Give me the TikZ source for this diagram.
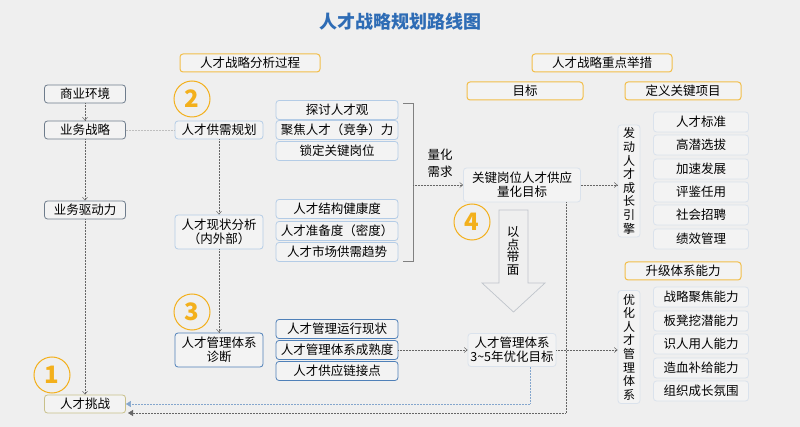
\documentclass[tikz,border=0pt]{standalone}
\usepackage{fontspec}
\setmainfont{Noto Sans CJK SC}
\usetikzlibrary{arrows.meta}
\definecolor{bg}{HTML}{EFEFEF}
\definecolor{boxfill}{HTML}{F3F3F3}
\definecolor{orangeb}{HTML}{F2BE4A}
\definecolor{grayb}{HTML}{6E7C8C}
\definecolor{lblue}{HTML}{B4CCE6}
\definecolor{dblue}{HTML}{4F80B8}
\definecolor{faint}{HTML}{DAE2EC}
\definecolor{olive}{HTML}{C8C08A}
\definecolor{titleblue}{HTML}{2E6CB5}
\definecolor{numor}{HTML}{F3B01C}
\begin{document}
\begin{tikzpicture}[x=1pt,y=-1pt,
  bx/.style={draw, rounded corners=3pt, fill=boxfill, line width=0.8pt, inner sep=1pt, font=\fontsize{12.5}{14}\selectfont, align=center},
  hdr/.style={bx, draw=orangeb, line width=1pt, minimum width=116pt, minimum height=18pt},
  lft/.style={bx, draw=grayb, minimum width=81pt, minimum height=18pt},
  mid/.style={bx, draw=lblue, minimum width=88pt},
  rgt/.style={bx, draw=lblue, minimum width=122pt, minimum height=19pt},
  rgtd/.style={bx, draw=dblue, minimum width=122pt, minimum height=19pt},
  prj/.style={bx, draw=faint, minimum width=95pt, minimum height=20pt},
  vbx/.style={bx, draw=faint, minimum width=22pt, font=\fontsize{12}{13.6}\selectfont},
  num/.style={circle, draw=numor, line width=1pt, minimum size=36pt, inner sep=0pt, text=numor, font=\fontsize{24}{24}\selectfont\bfseries},
  dl/.style={densely dotted, draw=gray!80!black, line width=0.5pt},
  da/.style={dl, -{Straight Barb[length=3pt,width=5pt]}},
]
\fill[bg] (0,0) rectangle (800,427);
\useasboundingbox (0,0) rectangle (800,427);
\node[text=titleblue, font=\fontsize{18}{20}\selectfont\bfseries] (title) at (400,22) {人才战略规划路线图};
\node[hdr, minimum width=140pt] (h1) at (250,63) {人才战略分析过程};
\node[hdr, minimum width=140pt] (h2) at (602,63) {人才战略重点举措};
\node[hdr] (h3) at (525,91) {目标};
\node[hdr] (h4) at (683,91) {定义关键项目};
\node[hdr] (h5) at (683,271) {升级体系能力};
% left column
\node[lft] (a1) at (85,94) {商业环境};
\node[lft] (a2) at (85,130) {业务战略};
\node[lft] (a3) at (85,210) {业务驱动力};
\node[lft, draw=olive] (a4) at (85,404) {人才挑战};
\node[num] (n1) at (52,375) {1};
\node[num] (n2) at (192,99) {2};
\node[num] (n3) at (192,312) {3};
\node[num] (n4) at (472,222) {4};
% mid column
\node[mid, minimum height=18pt] (b1) at (219,130) {人才供需规划};
\node[mid, minimum height=34pt] (b2) at (219,232) {人才现状分析\\（内外部）};
\node[mid, draw=dblue, minimum height=34pt] (b3) at (219,350) {人才管理体系\\诊断};
% right of mid
\node[rgt] (c1) at (337,110) {探讨人才观};
\node[rgt] (c2) at (337,130) {聚焦人才（竞争）力};
\node[rgt] (c3) at (337,151) {锁定关键岗位};
\node[rgt] (c4) at (337,209) {人才结构健康度};
\node[rgt] (c5) at (337,231) {人才准备度（密度）};
\node[rgt] (c6) at (337,252) {人才市场供需趋势};
\node[rgtd] (c7) at (337,329) {人才管理运行现状};
\node[rgtd] (c8) at (337,350) {人才管理体系成熟度};
\node[rgtd] (c9) at (337,371) {人才供应链接点};
% bracket
\draw[gray, line width=0.8pt] (403,103) -- (413,103) -- (413,261) -- (403,261);
\coordinate (br) at (413,185);
\node[font=\fontsize{12.5}{17}\selectfont, align=center] (q) at (440,163) {量化\\需求};
% targets
\node[bx, draw=faint, minimum width=117pt, minimum height=34pt] (t1) at (522,185) {关键岗位人才供应\\量化目标};
\node[bx, draw=faint, minimum width=88pt, minimum height=33pt] (t2) at (512,350) {人才管理体系\\3\textasciitilde5年优化目标};
% big arrow
\draw[faint!70!gray, line width=0.7pt] (499,210) -- (528,210) -- (528,283) -- (545,283) -- (513.5,312) -- (482,283) -- (499,283) -- cycle;
\node[font=\fontsize{12.5}{12.8}\selectfont, align=center] (pt) at (513,251) {以\\点\\带\\面};
% vertical boxes
\node[vbx, minimum height=112pt] (v1) at (629,181) {发\\动\\人\\才\\成\\长\\引\\擎};
\node[vbx, minimum height=113pt] (v2) at (629,347) {优\\化\\人\\才\\管\\理\\体\\系};
% projects
\node[prj] (p1) at (701,122) {人才标准};
\node[prj] (p2) at (701,145) {高潜选拔};
\node[prj] (p3) at (701,169) {加速发展};
\node[prj] (p4) at (701,192) {评鉴任用};
\node[prj] (p5) at (701,215) {社会招聘};
\node[prj] (p6) at (701,239) {绩效管理};
\node[prj] (s1) at (701,297) {战略聚焦能力};
\node[prj] (s2) at (701,321) {板凳挖潜能力};
\node[prj] (s3) at (701,344) {识人用人能力};
\node[prj] (s4) at (701,368) {造血补给能力};
\node[prj] (s5) at (701,391) {组织成长氛围};
% connectors
\draw[da] (a1) -- (a2);
\draw[da] (a2) -- (a3);
\draw[da] (a3) -- (a4);
\draw[dl, draw=gray!50] (a2) -- (b1);
\draw[da] (b1) -- (b2);
\draw[da] (b2) -- (b3);
\draw[da] (br) -- (t1.west);
\draw[da] (c8) -- (t2.west);
\draw[da] (t1.east) -- (v1.west |- t1.east);
\draw[da] (t2.east) -- (v2.west |- t2.east);
\coordinate (f1) at (530,404);
\draw[dl, draw=dblue!70, -{Triangle[length=5pt,width=6pt]}] (t2.south -| f1) -- (f1) -- (a4.east);
\coordinate (f2) at (566,413);
\coordinate (f3) at (128,413);
\draw[dl, -{Triangle[length=5pt,width=6pt]}] (t1.south -| f2) -- (f2) -- (f3);
\end{tikzpicture}
\end{document}
